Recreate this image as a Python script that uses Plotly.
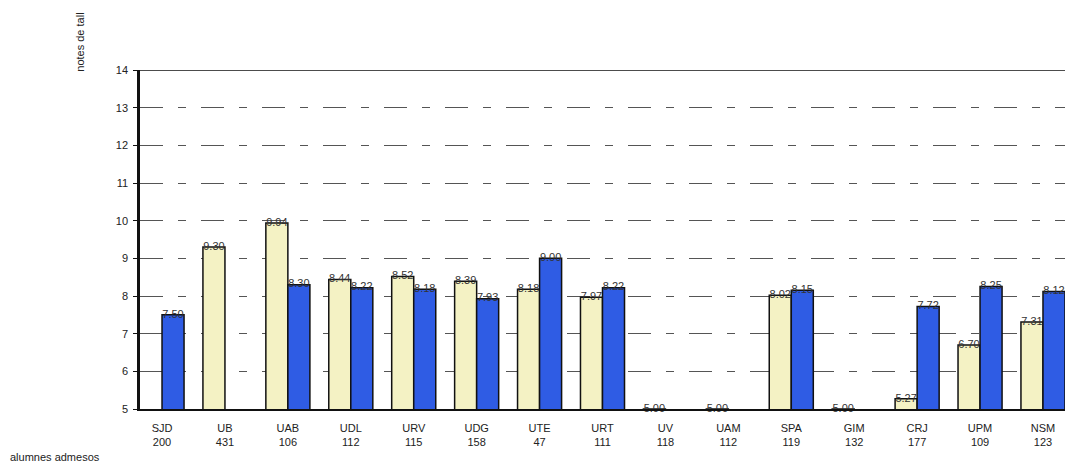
import plotly.graph_objects as go

categories = ["SJD", "UB", "UAB", "UDL", "URV", "UDG", "UTE", "URT", "UV", "UAM", "SPA", "GIM", "CRJ", "UPM", "NSM"]
admitted = ["200", "431", "106", "112", "115", "158", "47", "111", "118", "112", "119", "132", "177", "109", "123"]
series_a = [None, 9.30, 9.94, 8.44, 8.52, 8.39, 8.18, 7.97, 5.00, 5.00, 8.02, 5.00, 5.27, 6.70, 7.31]
series_b = [7.50, None, 8.30, 8.22, 8.18, 7.93, 9.00, 8.22, None, None, 8.15, None, 7.72, 8.25, 8.12]
y_ticks = [5, 6, 7, 8, 9, 10, 11, 12, 13, 14]

x_idx = list(range(len(categories)))
tick_text = [f"{c}<br>{n}" for c, n in zip(categories, admitted)]
FONT = "Liberation Sans, Arial"

fig = go.Figure()
for vals, color, grp in [(series_a, "#F4F2C4", "a"), (series_b, "#2F5CE4", "b")]:
    fig.add_trace(go.Bar(
        x=x_idx, y=vals, offsetgroup=grp, alignmentgroup="g",
        marker=dict(color=color, line=dict(color="#111111", width=1.5)),
        hoverinfo="skip",
    ))
for vals, grp in [(series_a, "a"), (series_b, "b")]:
    fig.add_trace(go.Scatter(
        x=x_idx, y=vals, offsetgroup=grp, alignmentgroup="g",
        mode="text", text=[f"{v:.2f}" if v is not None else "" for v in vals],
        textposition="middle center",
        textfont=dict(size=11, color="#333333", family=FONT),
        cliponaxis=False, hoverinfo="skip",
    ))

fig.update_layout(
    width=1057, height=455,
    margin=dict(l=132, r=0, t=62, b=54),
    paper_bgcolor="white", plot_bgcolor="white",
    barmode="group", bargap=0.3, bargroupgap=0.0,
    scattermode="group", scattergap=0.3,
    showlegend=False,
    font=dict(family=FONT, size=11, color="#222222"),
    xaxis=dict(
        tickmode="array", tickvals=x_idx, ticktext=tick_text,
        range=[-0.35, 14.35], showgrid=False, showline=True,
        linecolor="#111111", linewidth=1.5, ticks="", zeroline=False,
        tickfont=dict(size=11), ticklabelstandoff=8,
    ),
    yaxis=dict(
        range=[5, 14], tickmode="array", tickvals=y_ticks,
        showgrid=True, gridcolor="#555555", gridwidth=1,
        griddash="23px,15px,8px,15px",
        showline=True, linecolor="#111111", linewidth=2.5,
        ticks="outside", ticklen=4, tickcolor="#111111",
        zeroline=False, tickfont=dict(size=11), ticklabelstandoff=3,
    ),
    shapes=[dict(type="line", xref="paper", yref="y", x0=0, x1=1, y0=14, y1=14,
                 line=dict(color="#111111", width=1.5))],
    annotations=[
        dict(text="notes de tall", xref="paper", yref="paper", x=-0.065, y=1.083,
             textangle=-90, showarrow=False, font=dict(size=11), xanchor="center", yanchor="middle"),
        dict(text="alumnes admesos", xref="paper", yref="paper", x=-0.1427, y=-0.1416,
             showarrow=False, font=dict(size=11), xanchor="left", yanchor="middle"),
    ],
)

fig.write_html("out.html")
